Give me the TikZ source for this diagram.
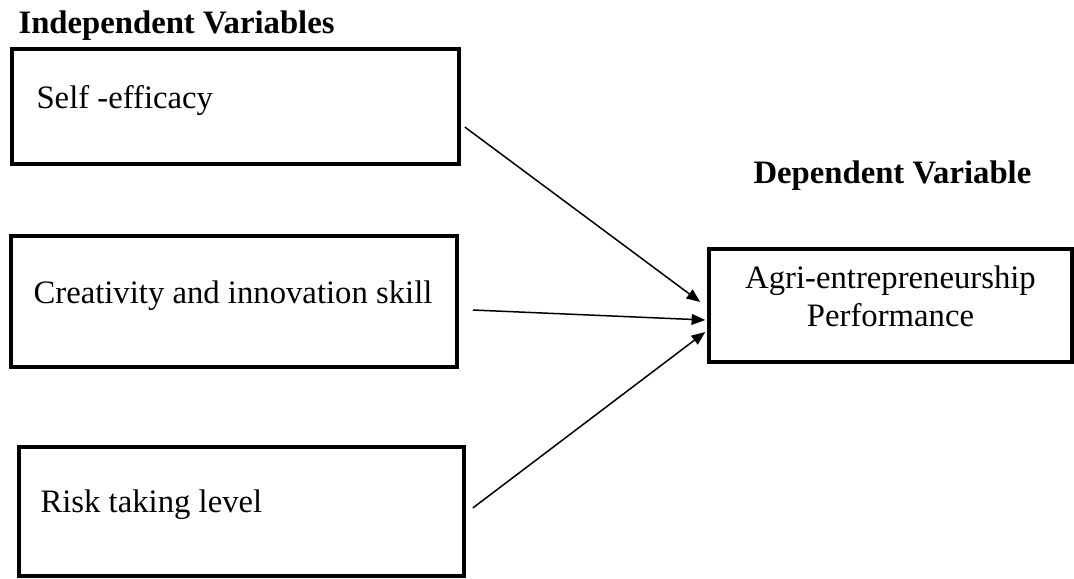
\documentclass[tikz,border=0pt]{standalone}
\usepackage{fontspec}
\setmainfont{Liberation Serif}
\usetikzlibrary{arrows.meta}

\begin{document}
\fontsize{12}{14}\selectfont
\begin{tikzpicture}[x=0.0129cm,y=-0.0129cm,
   varbox/.style={draw,line width=1.3pt,inner sep=0pt},
   lbl/.style={anchor=base west,inner sep=0pt},
   arr/.style={-{Triangle[length=5pt,width=4pt]},line width=0.55pt}]
   \useasboundingbox (0,0) rectangle (1074,578);
   \node[lbl,font=\bfseries] (indep) at (18,33) {Independent Variables};
   \node[lbl,font=\bfseries] (depend) at (753,183) {Dependent Variable};
   \node[varbox,minimum width=447*0.0129cm,minimum height=115*0.0129cm] (self) at (235.5,106.5) {};
   \node[varbox,minimum width=446*0.0129cm,minimum height=131*0.0129cm] (crea) at (234,301.5) {};
   \node[varbox,minimum width=445*0.0129cm,minimum height=129*0.0129cm] (risk) at (241.5,511.5) {};
   \node[varbox,minimum width=363*0.0129cm,minimum height=113*0.0129cm] (perf) at (890.5,305.5) {};
   \node[lbl] (selft) at (36,108) {Self -efficacy};
   \node[lbl] (creat) at (33,303) {Creativity and innovation skill};
   \node[lbl] (riskt) at (40,512) {Risk taking level};
   \node[align=center,inner sep=0pt] (perft) at (890.5,296.5) {Agri-entrepreneurship\\Performance};
   \draw[arr] ([shift={(4,20.5)}]self.east) -- ([shift={(-7,-3.5)}]perf.west);
   \draw[arr] ([shift={(14,8.5)}]crea.east) -- ([shift={(-2,14.5)}]perf.west);
   \draw[arr] ([shift={(7,-3.5)}]risk.east) -- ([shift={(-2,26.5)}]perf.west);
\end{tikzpicture}
\end{document}
